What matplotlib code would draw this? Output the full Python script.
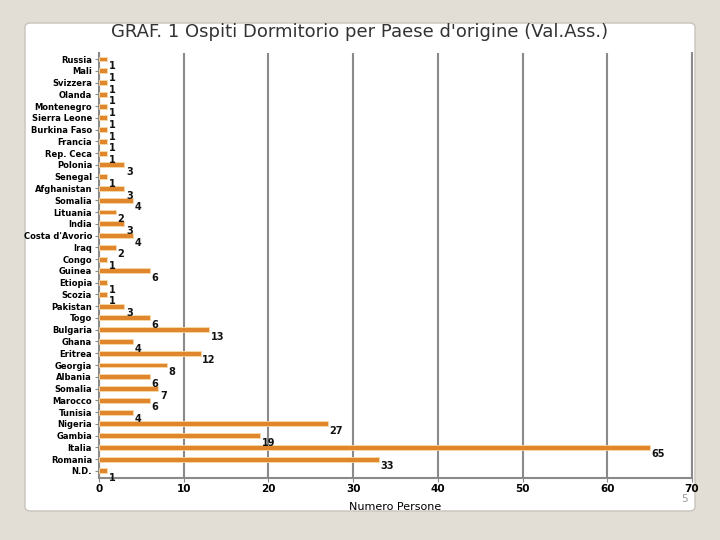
import matplotlib.pyplot as plt
import numpy as np
from matplotlib.patches import FancyBboxPatch

countries = ["Russia", "Mali", "Svizzera", "Olanda", "Montenegro", "Sierra Leone",
             "Burkina Faso", "Francia", "Rep. Ceca", "Polonia", "Senegal",
             "Afghanistan", "Somalia", "Lituania", "India", "Costa d'Avorio",
             "Iraq", "Congo", "Guinea", "Etiopia", "Scozia", "Pakistan", "Togo",
             "Bulgaria", "Ghana", "Eritrea", "Georgia", "Albania", "Somalia",
             "Marocco", "Tunisia", "Nigeria", "Gambia", "Italia", "Romania", "N.D."]
persone = [1, 1, 1, 1, 1, 1, 1, 1, 1, 3, 1, 3, 4, 2, 3, 4, 2, 1, 6, 1, 1, 3, 6,
           13, 4, 12, 8, 6, 7, 6, 4, 27, 19, 65, 33, 1]
xticks = [0, 10, 20, 30, 40, 50, 60, 70]

fig = plt.figure(figsize=(7.2, 5.4), dpi=100)
fig.patch.set_facecolor("#e3ded5")

# white slide panel
panel = FancyBboxPatch((25 / 720, 1 - 511 / 540), 670 / 720, 488 / 540,
                       boxstyle="round,pad=0,rounding_size=0.008",
                       transform=fig.transFigure, facecolor="white",
                       edgecolor="#c8c4bc", linewidth=1.0, zorder=-5)
fig.patches.append(panel)

ax = fig.add_axes([99 / 720, 1 - 478 / 540, 593 / 720, 425 / 540])
ax.set_facecolor("white")

y = np.arange(len(countries))
ax.barh(y, persone, height=0.42, color="#e0862c", edgecolor="#f7d9a8",
        linewidth=0.6, zorder=3)
for yi, v in zip(y, persone):
    ax.text(v + 0.2, yi + 0.6, str(v), fontsize=7, fontweight="bold",
            ha="left", va="center", color="#111111", zorder=4)

ax.set_ylim(35.6, -0.51)
ax.set_yticks(y)
ax.set_yticklabels(countries, fontsize=6, fontweight="bold")
ax.set_xlim(0, 70)
ax.set_xticks(xticks)
ax.set_xticklabels([str(t) for t in xticks], fontsize=7.5, fontweight="bold")
ax.xaxis.grid(True, color="#8a8a8a", linewidth=1.5, zorder=1)
ax.set_axisbelow(True)
ax.tick_params(axis="y", length=3, color="#8a8a8a", pad=2)
ax.tick_params(axis="x", length=3, color="#8a8a8a", pad=1)
ax.spines["top"].set_visible(False)
for side in ["left", "bottom", "right"]:
    ax.spines[side].set_color("#8a8a8a")
    ax.spines[side].set_linewidth(1.5)
ax.set_xlabel("Numero Persone", fontsize=8, labelpad=6)

fig.text(360 / 720, 1 - 32 / 540,
         "GRAF. 1 Ospiti Dormitorio per Paese d'origine (Val.Ass.)",
         ha="center", va="center", fontsize=13, color="#333333")
fig.text(684 / 720, 1 - 499 / 540, "5", ha="center", va="center",
         fontsize=7.5, color="#999999")

fig.savefig("out.png", dpi=100, facecolor=fig.get_facecolor())
